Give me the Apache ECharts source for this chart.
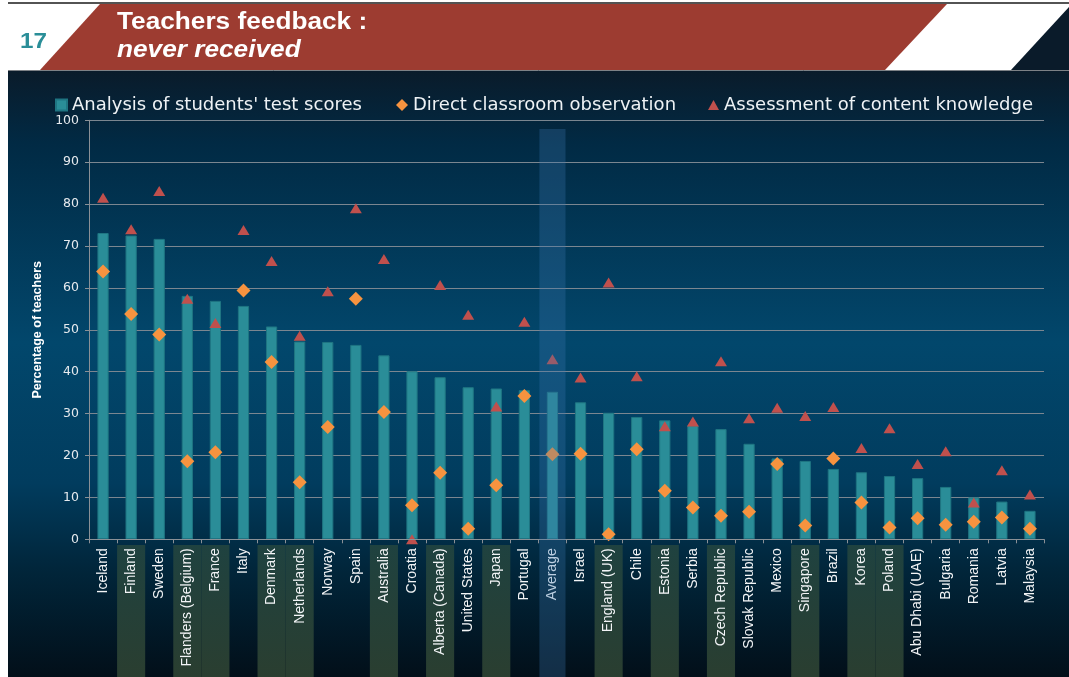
<!DOCTYPE html>
<html>
<head>
<meta charset="utf-8">
<script src="https://cdn.jsdelivr.net/npm/echarts@6/dist/echarts.min.js"></script>
<style>
html,body{margin:0;padding:0;background:#fff;}
#chart{width:1069px;height:677px;}
</style>
</head>
<body>
<div id="chart"></div>
<script>
const categories = ["Iceland","Finland","Sweden","Flanders (Belgium)","France","Italy","Denmark","Netherlands","Norway","Spain","Australia","Croatia","Alberta (Canada)","United States","Japan","Portugal","Average","Israel","England (UK)","Chile","Estonia","Serbia","Czech Republic","Slovak Republic","Mexico","Singapore","Brazil","Korea","Poland","Abu Dhabi (UAE)","Bulgaria","Romania","Latvia","Malaysia"];
const testScores = [73.1,72.5,71.7,58.1,56.9,55.7,50.8,47.2,47.1,46.4,43.9,40.1,38.7,36.3,36.0,35.6,35.2,32.7,30.2,29.2,28.4,27.2,26.3,22.8,19.3,18.7,16.8,16.0,15.1,14.6,12.5,10.0,9.0,6.8];
const observation = [63.9,53.8,48.9,18.6,20.8,59.4,42.3,13.6,26.8,57.4,30.4,8.1,15.9,2.5,12.9,34.2,20.3,20.4,1.2,21.5,11.6,7.6,5.6,6.6,18.0,3.3,19.3,8.8,2.8,5.0,3.5,4.2,5.2,2.5];
const knowledge = [81.5,74.0,83.1,57.4,51.6,73.8,66.4,48.6,59.2,79.0,66.9,0.0,60.7,53.6,31.7,51.9,43.0,38.6,61.3,38.9,27.0,28.1,42.5,28.9,31.4,29.4,31.6,21.8,26.5,18.0,21.0,8.8,16.5,10.7];
const highlighted = [0,1,0,1,1,0,1,1,0,0,1,0,1,0,1,0,0,0,1,0,1,0,1,0,0,1,0,1,1,0,0,0,0,0];
const averageName = "Average";
const seriesNames = ["Analysis of students' test scores","Direct classroom observation","Assessment of content knowledge"];
const titleLine1 = "Teachers feedback :";
const titleLine2 = "never received";
const slideNumber = "17";
const yAxisName = "Percentage of teachers";

const chart = echarts.init(document.getElementById('chart'), null, {renderer:'canvas'});

const gridL = 89, gridR = 25;
const legendFont = {color:'#eef2f5', fontSize:18, fontFamily:'DejaVu Sans'};

const option = {
  backgroundColor: '#ffffff',
  animation: false,
  graphic: {
    elements: [
      {type:'rect', z:-10, shape:{x:8,y:70,width:1061,height:607},
        style:{fill:new echarts.graphic.LinearGradient(0,0,0,1,[
          {offset:0,color:'#0a1b2a'},
          {offset:0.12,color:'#012a44'},
          {offset:0.45,color:'#02476c'},
          {offset:0.68,color:'#013c5e'},
          {offset:0.82,color:'#01263b'},
          {offset:1,color:'#020f19'}
        ])}},
      {type:'polygon', z:-9, shape:{points:[[1011,70],[1069,7],[1069,70]]}, style:{fill:'#0a1b2a'}},
      {type:'polygon', z:-9, shape:{points:[[100,4],[947,4],[885,70],[40,70]]}, style:{fill:'#9d3c31'}},
      {type:'line', z:-8, shape:{x1:8,y1:70.5,x2:1069,y2:70.5}, style:{stroke:'#7d8186', lineWidth:1}},
      {type:'line', z:-8, shape:{x1:8,y1:3,x2:1069,y2:3}, style:{stroke:'#1a1a1a', lineWidth:1.5}},
      {type:'text', z:100, x:20, y:42, scaleX:1.1, style:{text:slideNumber, fill:'#2a8e98', fontSize:22, fontWeight:'bold', fontFamily:'Liberation Sans', verticalAlign:'middle'}},
      {type:'text', z:100, x:117, y:23, scaleX:1.14, style:{text:titleLine1, fill:'#ffffff', fontSize:23, fontWeight:'bold', fontFamily:'Liberation Sans', verticalAlign:'middle'}},
      {type:'text', z:100, x:117, y:51, scaleX:1.14, style:{text:titleLine2, fill:'#ffffff', fontSize:23, fontWeight:'bold', fontStyle:'italic', fontFamily:'Liberation Sans', verticalAlign:'middle'}}
    ]
  },
  legend: [
    {left:50, top:91, icon:'rect', itemWidth:11, itemHeight:11, textStyle:legendFont, data:[seriesNames[0]]},
    {left:391, top:91, icon:'diamond', itemWidth:12, itemHeight:12, textStyle:legendFont, data:[seriesNames[1]]},
    {left:703, top:91, icon:'triangle', itemWidth:11, itemHeight:10, textStyle:legendFont, data:[seriesNames[2]]}
  ],
  grid: [
    {left:gridL, right:gridR, top:120.3, bottom:137.7},
    {left:gridL, right:gridR, top:545, bottom:0},
    {left:gridL, right:gridR, top:129, bottom:0}
  ],
  xAxis: [
    {type:'category', gridIndex:0, data:categories, z:10,
      axisLine:{show:true, lineStyle:{color:'#8a9096', width:1}},
      axisTick:{show:true, length:4, lineStyle:{color:'#8a9096'}},
      axisLabel:{rotate:90, interval:0, margin:9, color:'#f2f4f6', fontSize:14, fontFamily:'Liberation Sans'}},
    {type:'category', gridIndex:1, data:categories, show:false},
    {type:'category', gridIndex:2, data:categories, show:false}
  ],
  yAxis: [
    {type:'value', gridIndex:0, min:0, max:100, interval:10,
      name:yAxisName, nameLocation:'middle', nameGap:43,
      nameTextStyle:{color:'#ffffff', fontSize:12.5, fontWeight:'bold', fontFamily:'Liberation Sans'},
      axisLine:{show:true, lineStyle:{color:'#8a9096'}},
      axisTick:{show:true, length:4, lineStyle:{color:'#8a9096'}},
      axisLabel:{color:'#e6eaee', fontSize:12.5, fontFamily:'DejaVu Sans', margin:10},
      splitLine:{show:true, lineStyle:{color:'#7b8690', width:1.2}}},
    {type:'value', gridIndex:1, min:0, max:1, show:false},
    {type:'value', gridIndex:2, min:0, max:1, show:false}
  ],
  series: [
    {name:'labelHighlight', type:'bar', xAxisIndex:1, yAxisIndex:1, z:1, barWidth:'100%', silent:true,
      itemStyle:{color:new echarts.graphic.LinearGradient(0,0,0,1,[{offset:0,color:'#1f4240'},{offset:1,color:'#2a3e30'}])},
      data:highlighted.map(h => h ? 1 : null)},
    {name:seriesNames[0], type:'bar', xAxisIndex:0, yAxisIndex:0, barWidth:'40%', z:3,
      itemStyle:{color:'#2a8d98', borderColor:'#1f7582', borderWidth:1},
      data:testScores},
    {name:seriesNames[1], type:'scatter', xAxisIndex:0, yAxisIndex:0, symbol:'diamond', symbolSize:14, z:4, clip:false,
      itemStyle:{color:'#f7933f', opacity:1},
      data:observation},
    {name:seriesNames[2], type:'scatter', xAxisIndex:0, yAxisIndex:0, symbol:'triangle', symbolSize:[12,10], z:4, clip:false,
      itemStyle:{color:'#c0504d', opacity:1},
      data:knowledge},
    {name:'averageHighlight', type:'bar', xAxisIndex:2, yAxisIndex:2, z:20, barWidth:'93%', silent:true,
      itemStyle:{color:'rgba(60,120,175,0.3)'},
      data:categories.map(c => c === averageName ? 1 : null)}
  ]
};
chart.setOption(option);
</script>
</body>
</html>
